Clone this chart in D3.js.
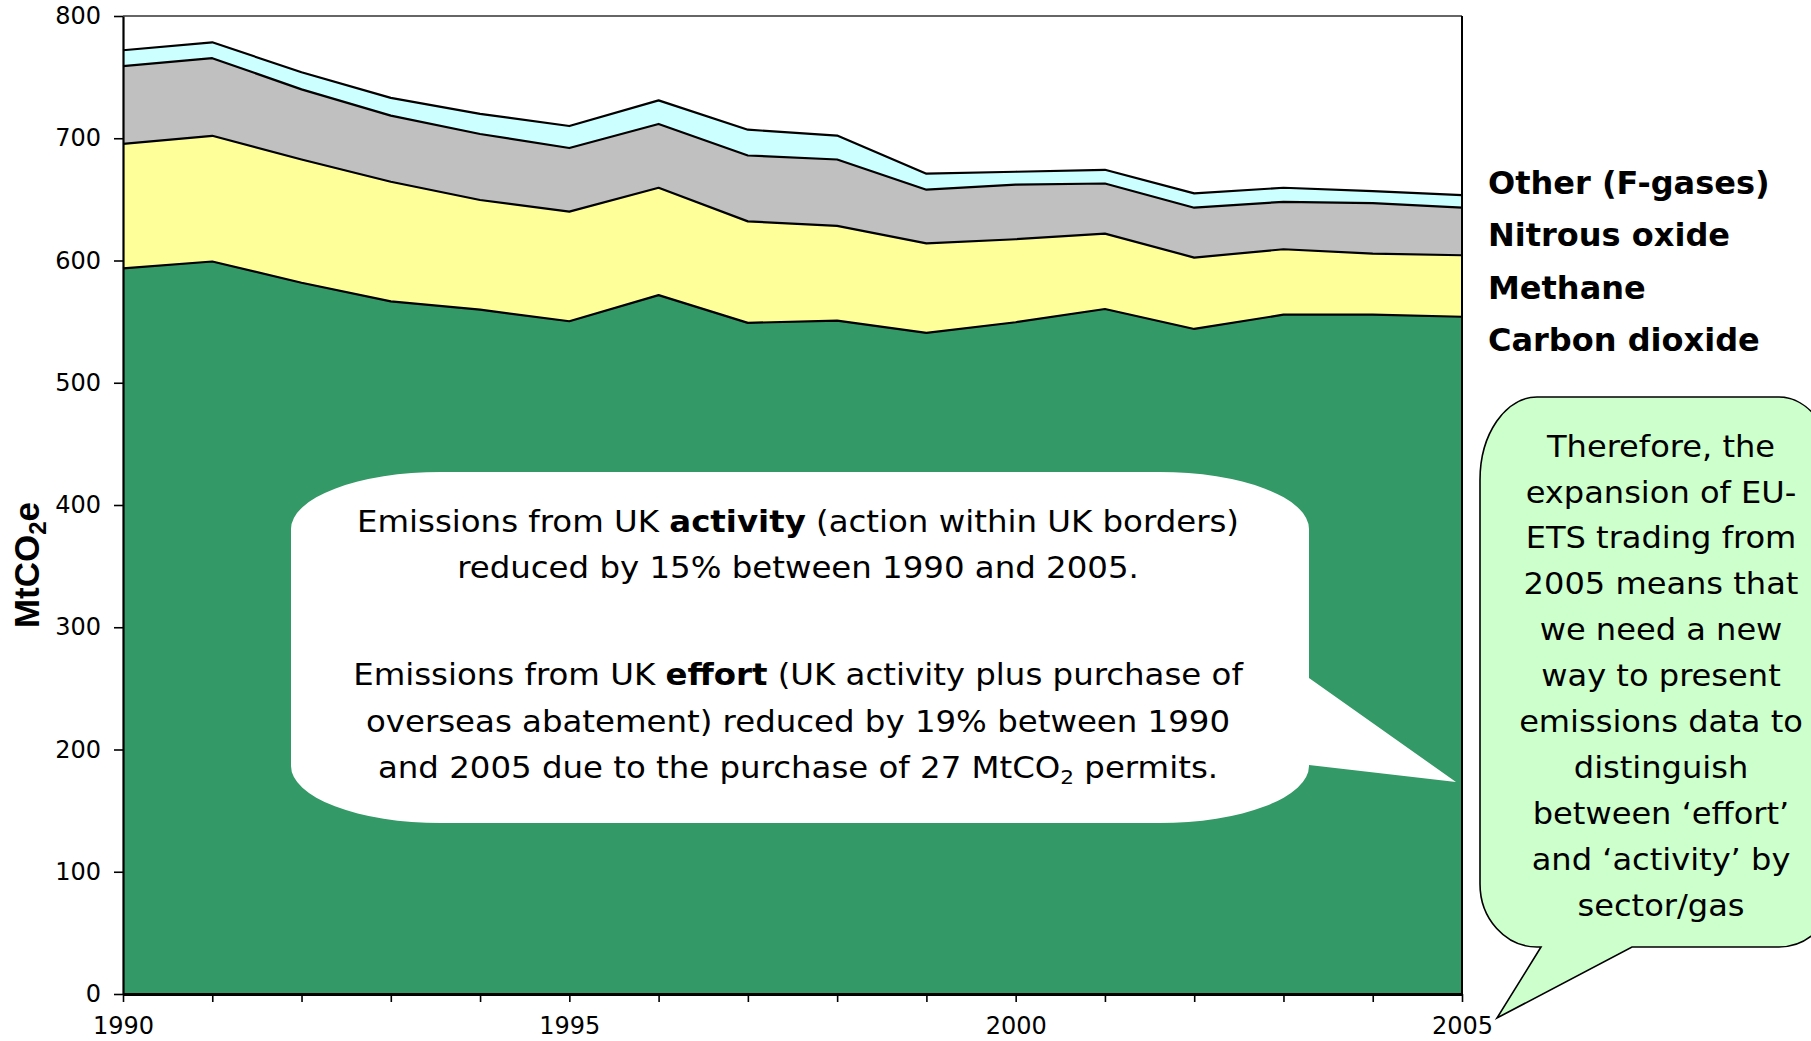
<!DOCTYPE html>
<html>
<head>
<meta charset="utf-8">
<script src="https://cdn.jsdelivr.net/npm/d3@7"></script>
<style>
  html, body { margin: 0; padding: 0; background: #ffffff; }
  svg { display: block; }
</style>
</head>
<body>
<svg id="chart" width="1811" height="1041"></svg>
<script>
// UK greenhouse gas emissions by gas, MtCO2e
const years = [1990, 1991, 1992, 1993, 1994, 1995, 1996, 1997, 1998, 1999, 2000, 2001, 2002, 2003, 2004, 2005];
const carbonDioxide = [593.5, 599.2, 581.8, 566.6, 559.8, 550.3, 571.7, 549.0, 550.8, 540.8, 549.5, 560.3, 544.0, 555.7, 555.7, 554.0];
const methane       = [101.9, 102.8, 100.8, 97.8, 89.7, 89.7, 87.8, 83.0, 77.5, 73.2, 67.9, 61.7, 58.4, 53.5, 50.0, 50.3];
const nitrousOxide  = [63.6, 63.5, 57.4, 54.1, 54.0, 52.0, 52.2, 53.9, 54.3, 43.9, 44.6, 41.0, 40.8, 38.8, 41.3, 38.9];
const fGases        = [13.0, 13.0, 14.0, 14.5, 16.5, 18.0, 19.3, 21.1, 19.6, 13.1, 10.6, 11.2, 11.7, 11.5, 9.8, 10.3];

const seriesKeys   = ["co2", "ch4", "n2o", "other"];
const seriesLabels = ["Carbon dioxide", "Methane", "Nitrous oxide", "Other (F-gases)"];
const seriesColors = ["#339966", "#FFFF99", "#C0C0C0", "#CCFFFF"];

const yTickValues = [0, 100, 200, 300, 400, 500, 600, 700, 800];
const xTickLabels = [1990, 1995, 2000, 2005];

const activityNote = [
  [{t: "Emissions from UK "}, {t: "activity", b: true}, {t: " (action within UK borders)"}],
  [{t: "reduced by 15% between 1990 and 2005."}],
  null,
  [{t: "Emissions from UK "}, {t: "effort", b: true}, {t: " (UK activity plus purchase of"}],
  [{t: "overseas abatement) reduced by 19% between 1990"}],
  [{t: "and 2005 due to the purchase of 27 MtCO"}, {t: "2", sub: true}, {t: " permits."}]
];
const tradingNote = [
  "Therefore, the", "expansion of EU-", "ETS trading from", "2005 means that",
  "we need a new", "way to present", "emissions data to", "distinguish",
  "between \u2018effort\u2019", "and \u2018activity\u2019 by", "sector/gas"
];

const table = years.map((yr, i) => ({
  year: yr, co2: carbonDioxide[i], ch4: methane[i], n2o: nitrousOxide[i], other: fGases[i]
}));

const svg = d3.select("#chart");
const plot = {left: 123, right: 1462, top: 16, bottom: 994};

const x = d3.scaleLinear().domain([1990, 2005]).range([plot.left, plot.right]);
const y = d3.scaleLinear().domain([0, 800]).range([plot.bottom, plot.top]);

const stacked = d3.stack().keys(seriesKeys)(table);

const area = d3.area()
  .x(d => x(d.data.year))
  .y0(d => y(d[0]))
  .y1(d => y(d[1]));
const topLine = d3.line()
  .x(d => x(d.data.year))
  .y(d => y(d[1]));

// stacked areas
svg.append("g").selectAll("path.area")
  .data(stacked).join("path")
  .attr("class", "area")
  .attr("d", area)
  .attr("fill", (d, i) => seriesColors[i]);

// outlines on top of each layer
svg.append("g").selectAll("path.edge")
  .data(stacked).join("path")
  .attr("class", "edge")
  .attr("d", topLine)
  .attr("fill", "none")
  .attr("stroke", "#000")
  .attr("stroke-width", 2.2)
  .attr("stroke-linejoin", "round");

// plot frame (top and right)
svg.append("line")
  .attr("x1", plot.left).attr("x2", plot.right)
  .attr("y1", plot.top).attr("y2", plot.top)
  .attr("stroke", "#333").attr("stroke-width", 1.6);
svg.append("line")
  .attr("x1", plot.right).attr("x2", plot.right)
  .attr("y1", plot.top).attr("y2", plot.bottom)
  .attr("stroke", "#000").attr("stroke-width", 2);

// axes
const yAxis = svg.append("g")
  .attr("transform", `translate(${plot.left},0)`)
  .call(d3.axisLeft(y).tickValues(yTickValues).tickSize(9).tickPadding(13).tickSizeOuter(0));
yAxis.select(".domain").attr("stroke", "#000").attr("stroke-width", 2.2);
yAxis.selectAll(".tick line").attr("stroke", "#000").attr("stroke-width", 1.6);
yAxis.selectAll("text")
  .attr("font-family", "'DejaVu Sans', Verdana, sans-serif")
  .attr("font-size", 24).attr("fill", "#000");

const xAxis = svg.append("g")
  .attr("transform", `translate(0,${plot.bottom})`)
  .call(d3.axisBottom(x).tickValues(years).tickSize(8).tickPadding(15).tickSizeOuter(0)
    .tickFormat(d => xTickLabels.includes(d) ? String(d) : ""));
xAxis.select(".domain").attr("stroke", "#000").attr("stroke-width", 3);
xAxis.selectAll(".tick line").attr("stroke", "#000").attr("stroke-width", 1.6);
xAxis.selectAll("text")
  .attr("font-family", "'DejaVu Sans', Verdana, sans-serif")
  .attr("font-size", 24).attr("fill", "#000");

// y axis title
const yTitle = svg.append("text")
  .attr("transform", "translate(39,565) rotate(-90)")
  .attr("text-anchor", "middle")
  .attr("font-family", "'Liberation Sans', Arial, sans-serif")
  .attr("font-weight", "bold")
  .attr("font-size", 35)
  .attr("fill", "#000");
yTitle.append("tspan").text("MtCO");
yTitle.append("tspan").text("2").attr("font-size", 24).attr("dy", 7);
yTitle.append("tspan").text("e").attr("dy", -7);

// legend labels, listed top-down in reverse stacking order
svg.append("g").selectAll("text")
  .data(seriesLabels.slice().reverse()).join("text")
  .attr("x", 1488)
  .attr("y", (d, i) => 194 + i * 52.3)
  .attr("font-family", "'DejaVu Sans', Verdana, sans-serif")
  .attr("font-weight", "bold")
  .attr("font-size", 32)
  .attr("fill", "#000")
  .text(d => d);

// speech bubble outline: elliptical corners plus a pointed tail
function bubble(b) {
  const {x0, x1, y0, y1, rx, ryT, ryB, tail} = b;
  let d = `M${x0 + rx},${y0} H${x1 - rx} A${rx},${ryT} 0 0 1 ${x1},${y0 + ryT}`;
  if (tail.side === "right") {
    d += ` V${tail.a[1]} L${tail.tip[0]},${tail.tip[1]} L${tail.b[0]},${tail.b[1]}`;
  }
  d += ` V${y1 - ryB} A${rx},${ryB} 0 0 1 ${x1 - rx},${y1}`;
  if (tail.side === "bottom") {
    d += ` H${tail.b[0]} L${tail.tip[0]},${tail.tip[1]} L${tail.a[0]},${tail.a[1]}`;
  }
  d += ` H${x0 + rx} A${rx},${ryB} 0 0 1 ${x0},${y1 - ryB} V${y0 + ryT} A${rx},${ryT} 0 0 1 ${x0 + rx},${y0} Z`;
  return d;
}

// white note inside the plot
svg.append("path")
  .attr("d", bubble({
    x0: 291, x1: 1309, y0: 472, y1: 823, rx: 150, ryT: 57, ryB: 57,
    tail: {side: "right", a: [1309, 678], tip: [1456, 782], b: [1309, 765]}
  }))
  .attr("fill", "#fff");

const noteBaselines = [532, 578, null, 685.5, 732, 778];
const noteG = svg.append("g")
  .attr("transform", "translate(798,0) scale(1.08,1)")
  .attr("font-family", "'DejaVu Sans', Verdana, sans-serif")
  .attr("font-size", 30)
  .attr("fill", "#000");
activityNote.forEach((line, i) => {
  if (!line) return;
  const t = noteG.append("text")
    .attr("x", 0).attr("y", noteBaselines[i])
    .attr("text-anchor", "middle");
  line.forEach(seg => {
    const s = t.append("tspan").text(seg.t);
    if (seg.b) s.attr("font-weight", "bold");
    if (seg.sub) s.attr("font-size", 20).attr("dy", 6);
    else if (line.some(q => q.sub) && seg !== line[0]) s.attr("dy", -6);
  });
});

// green note to the right of the plot
svg.append("path")
  .attr("d", bubble({
    x0: 1480, x1: 1836, y0: 397, y1: 947, rx: 57, ryT: 83, ryB: 63,
    tail: {side: "bottom", a: [1541, 947], tip: [1497, 1018], b: [1632, 947]}
  }))
  .attr("fill", "#CCFFCC")
  .attr("stroke", "#000")
  .attr("stroke-width", 1.6);

svg.append("g")
  .attr("transform", "translate(1661,0) scale(1.07,1)")
  .attr("font-family", "'DejaVu Sans', Verdana, sans-serif")
  .attr("font-size", 30)
  .attr("fill", "#000")
  .attr("text-anchor", "middle")
  .selectAll("text")
  .data(tradingNote).join("text")
  .attr("x", 0)
  .attr("y", (d, i) => 456.7 + i * 45.9)
  .text(d => d);
</script>
</body>
</html>
